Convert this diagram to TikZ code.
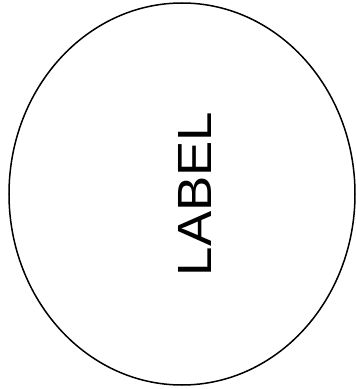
\documentclass[tikz,border=0pt]{standalone}
\usepackage{fontspec}
\setmainfont{Liberation Sans}
\begin{document}
\begin{tikzpicture}[x=1pt, y=1pt]
        \useasboundingbox (0,0) rectangle (356,389);
        % Contorno ellittico
        \coordinate (C) at (182,195);
        \draw[line width=1.5pt] (C) ellipse (173 and 191);
        
        % Etichetta verticale
        \node[rotate=90, inner sep=0pt] (label) at (195,195) {\fontsize{48}{48}\selectfont\scalebox{1.1}[1]{LABEL}};
    \end{tikzpicture}
\end{document}
